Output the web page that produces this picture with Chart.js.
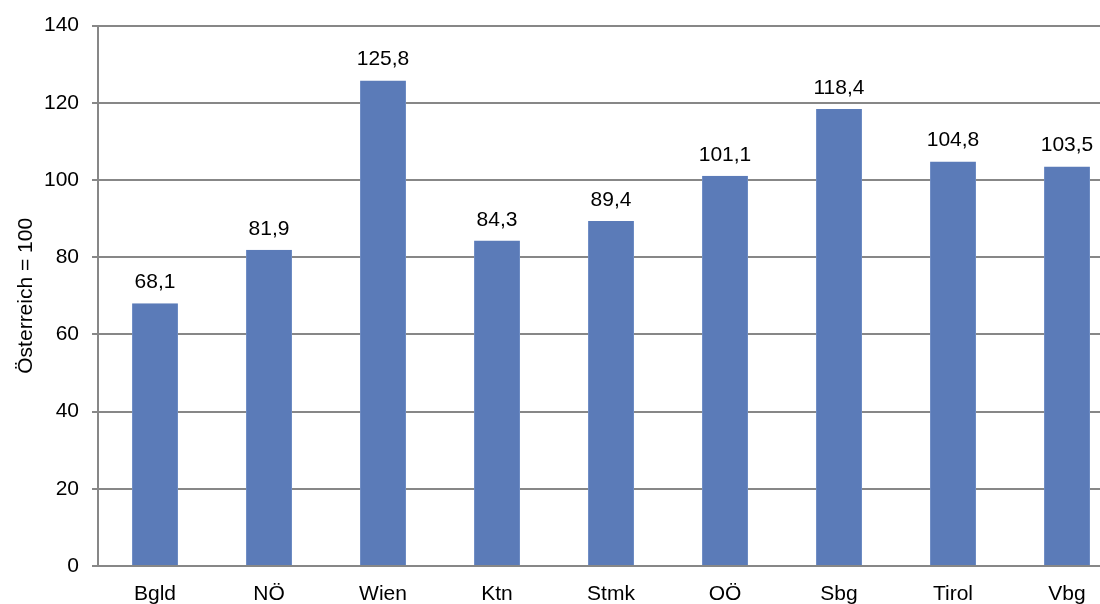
<!DOCTYPE html>
<html><head><meta charset="utf-8">
<script src="https://cdn.jsdelivr.net/npm/chart.js@4"></script>
<style>
html,body{margin:0;padding:0;background:#fff;overflow:hidden;width:1100px;height:604px;}
#wrap{position:absolute;left:0;top:0;width:1124px;height:604px;}
</style></head><body>
<div id="wrap"><canvas id="c" width="1124" height="604"></canvas></div>
<script>
const categories = ["Bgld","NÖ","Wien","Ktn","Stmk","OÖ","Sbg","Tirol","Vbg"];
const values = [68.1, 81.9, 125.8, 84.3, 89.4, 101.1, 118.4, 104.8, 103.5];
const yTicks = [0,20,40,60,80,100,120,140];
const yTitle = "Österreich = 100";

const FONT = "'Liberation Sans', Arial, sans-serif";
const labelPlugin = {
  id: 'vlabels',
  afterDatasetsDraw(chart) {
    const ctx = chart.ctx;
    const meta = chart.getDatasetMeta(0);
    ctx.save();
    ctx.font = "21px " + FONT;
    ctx.fillStyle = "#000";
    ctx.textAlign = "center";
    ctx.textBaseline = "alphabetic";
    meta.data.forEach((bar, i) => {
      ctx.fillText(values[i].toFixed(1).replace('.', ','), bar.x, bar.y - 15);
    });
    ctx.restore();
  }
};

new Chart(document.getElementById('c'), {
  type: 'bar',
  data: {
    labels: categories,
    datasets: [{
      data: values,
      backgroundColor: '#5b7bb8',
      borderColor: '#6e8cc4',
      borderWidth: {left:1,right:1,top:0,bottom:0},
      barPercentage: 0.404,
      categoryPercentage: 1
    }]
  },
  options: {
    responsive: false,
    animation: false,
    devicePixelRatio: 1,
    layout: {padding: {top: 22, left: 0, right: 0, bottom: 0}},
    plugins: {legend: {display: false}, tooltip: {enabled: false}},
    scales: {
      x: {
        grid: {display: false, drawTicks: false},
        border: {display: true, color: '#878787', width: 2},
        ticks: {font: {size: 21, family: FONT}, color: '#000', padding: 16, maxRotation: 0},
        afterFit(s) { s.height = 38; }
      },
      y: {
        min: 0, max: 140,
        afterBuildTicks(s) { s.ticks = yTicks.map(v => ({value: v})); },
        grid: {color: '#878787', lineWidth: 2, tickLength: 6},
        border: {display: true, color: '#878787', width: 2},
        ticks: {font: {size: 21, family: FONT}, color: '#000', padding: 13},
        title: {display: true, text: yTitle, font: {size: 21, family: FONT}, color: '#000', padding: {top: 14, bottom: 0}},
        afterFit(s) { s.width = 98; }
      }
    }
  },
  plugins: [labelPlugin]
});
</script>
</body></html>
